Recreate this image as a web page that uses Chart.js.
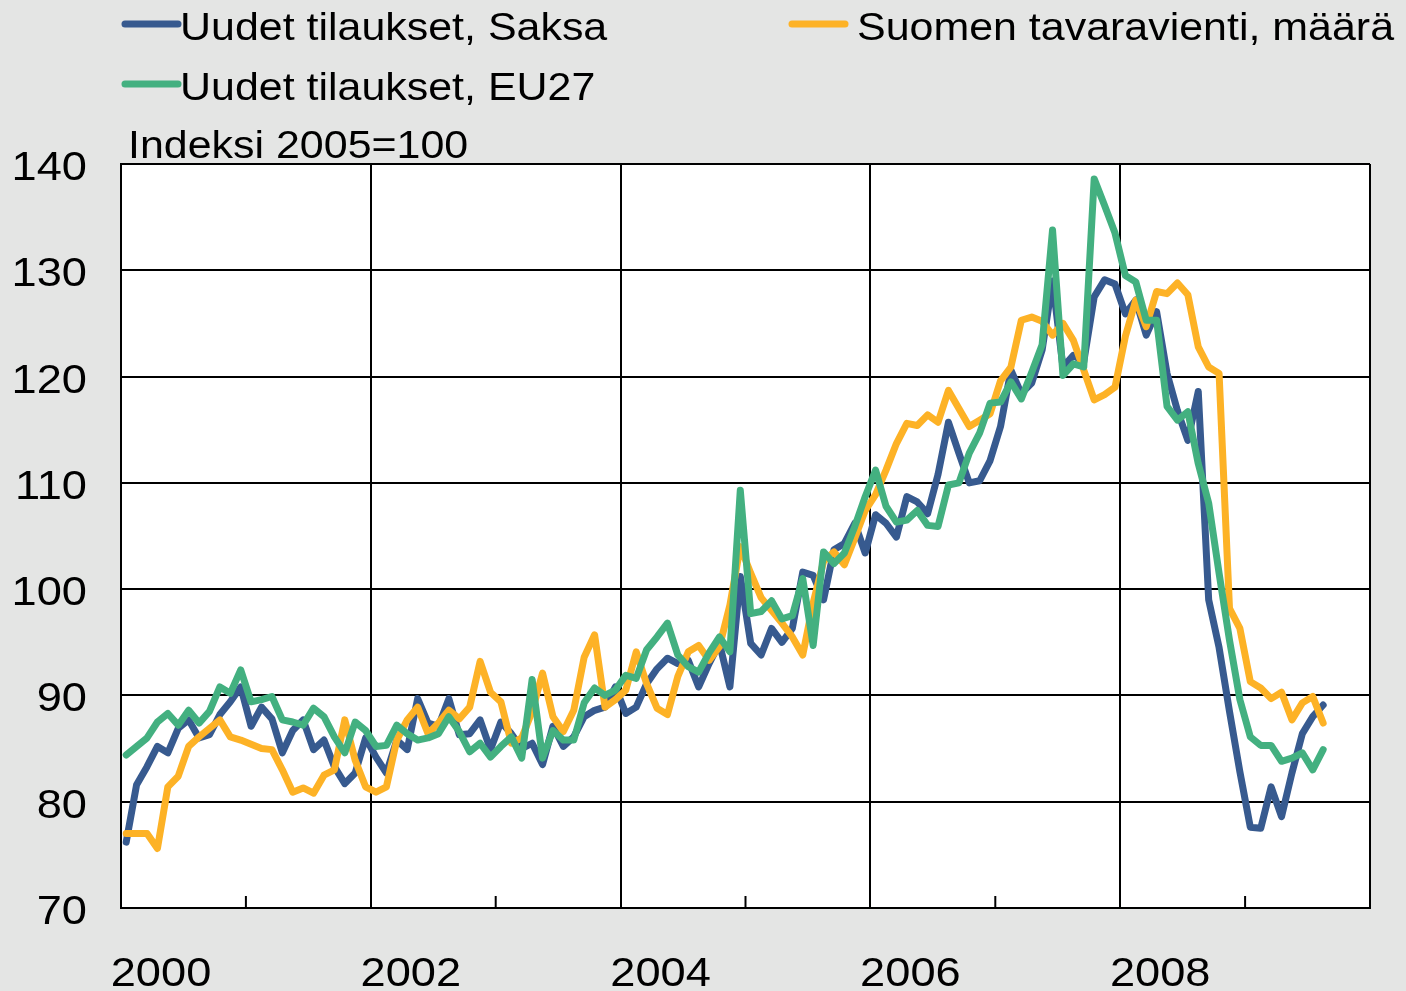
<!DOCTYPE html>
<html lang="fi">
<head>
<meta charset="utf-8">
<title>Uudet tilaukset ja Suomen tavaravienti</title>
<script src="https://cdn.jsdelivr.net/npm/chart.js@4.4.1/dist/chart.umd.min.js"></script>
<style>
  html, body { margin: 0; padding: 0; background: #e4e5e4; }
  canvas { display: block; }
</style>
</head>
<body>
<canvas id="chart" width="1406" height="991"></canvas>
<script>
// Monthly values, Jan 2000 - Aug 2009 (index 2005=100)
const startYear = 2000;

const saksa = [
  76.2, 81.6, 83.3, 85.2, 84.6, 86.9, 87.7, 86.0, 86.3, 88.2, 89.4, 90.8,
  87.1, 88.9, 87.8, 84.6, 86.7, 87.7, 84.9, 85.8, 83.3, 81.7, 82.7, 86.0,
  84.2, 82.7, 85.8, 84.9, 89.7, 87.4, 87.1, 89.7, 86.3, 86.4, 87.7, 84.9,
  87.5, 86.4, 85.0, 85.5, 83.5, 87.1, 85.2, 86.1, 88.0, 88.6, 88.9, 90.8,
  88.3, 88.9, 91.1, 92.5, 93.5, 93.0, 93.3, 90.8, 93.0, 94.9, 90.8, 101.2,
  94.9, 93.8, 96.3, 95.0, 96.3, 101.6, 101.3, 99.0, 103.7, 104.3, 106.2, 103.4,
  107.0, 106.2, 104.9, 108.7, 108.2, 107.1, 110.8, 115.7, 112.8, 110.0, 110.2, 112.1,
  115.3, 120.6, 118.4, 119.4, 122.5, 129.0, 120.9, 122.0, 121.4, 127.5, 129.1, 128.7,
  125.9, 127.2, 123.9, 126.1, 120.3, 116.8, 114.0, 118.6, 99.0, 94.5, 88.5, 82.8,
  77.6, 77.5, 81.4, 78.6, 82.7, 86.4, 88.0, 89.1
];

const vienti = [
  77.0, 77.0, 77.0, 75.6, 81.4, 82.4, 85.2, 86.1, 86.9, 87.7, 86.1, 85.8,
  85.4, 85.0, 84.9, 83.0, 80.9, 81.3, 80.8, 82.5, 83.0, 87.7, 83.9, 81.4,
  80.9, 81.4, 85.8, 87.7, 88.9, 86.4, 87.4, 88.6, 87.8, 88.9, 93.2, 90.3,
  89.4, 85.5, 86.0, 88.5, 92.1, 88.0, 86.6, 88.6, 93.6, 95.7, 88.9, 89.6,
  90.5, 94.1, 91.1, 88.8, 88.2, 91.8, 94.1, 94.7, 93.3, 94.6, 98.5, 104.0,
  101.5, 99.2, 98.0, 96.8, 95.5, 93.8, 98.7, 102.6, 103.5, 102.3, 104.8, 107.4,
  108.9, 111.2, 113.7, 115.6, 115.4, 116.4, 115.7, 118.7, 117.0, 115.3, 115.9, 116.5,
  119.6, 120.9, 125.3, 125.6, 125.2, 123.9, 125.0, 123.4, 120.6, 117.8, 118.3, 119.0,
  123.8, 127.2, 124.7, 128.0, 127.8, 128.8, 127.7, 122.8, 120.9, 120.3, 98.2, 96.3,
  91.3, 90.7, 89.7, 90.3, 87.7, 89.3, 89.9, 87.4
];

const eu27 = [
  84.4, 85.2, 86.0, 87.5, 88.3, 87.2, 88.6, 87.4, 88.5, 90.8, 90.2, 92.4,
  89.4, 89.6, 89.9, 87.7, 87.5, 87.2, 88.8, 88.0, 86.1, 84.6, 87.5, 86.7,
  85.2, 85.3, 87.2, 86.4, 85.8, 86.0, 86.4, 88.0, 86.6, 84.7, 85.5, 84.2,
  85.2, 86.1, 84.1, 91.5, 84.1, 86.7, 85.8, 85.8, 89.3, 90.7, 90.0, 90.5,
  91.9, 91.6, 94.3, 95.5, 96.8, 93.8, 92.7, 92.2, 94.0, 95.5, 94.1, 109.3,
  97.7, 97.9, 98.9, 97.2, 97.5, 101.0, 94.7, 103.5, 102.4, 103.4, 105.9, 108.7,
  111.2, 107.8, 106.3, 106.5, 107.4, 106.0, 105.9, 109.8, 110.0, 112.8, 114.7, 117.5,
  117.6, 119.5, 117.9, 120.4, 123.0, 133.8, 120.1, 121.2, 120.9, 138.6, 136.1, 133.5,
  129.5, 128.9, 125.3, 125.3, 117.2, 115.9, 116.7, 111.8, 108.1, 101.5, 95.2, 89.6,
  86.1, 85.3, 85.3, 83.8, 84.1, 84.6, 83.0, 84.9
];

const seriesLabels = ['Uudet tilaukset, Saksa', 'Suomen tavaravienti, määrä', 'Uudet tilaukset, EU27'];
const seriesColors = ['#375a8f', '#fdb226', '#43b080'];
const yearLabels = ['2000', '2002', '2004', '2006', '2008'];
const unitLabel = 'Indeksi 2005=100';

// Original text is drawn slightly wider than Arial
const STRETCH = 1.13;
const FONT = '"Liberation Sans", Arial, sans-serif';

const toPoints = (values) => values.map((v, i) => ({ x: startYear + (i + 0.5) / 12, y: v }));

const drawText = (ctx, text, x, y, align, size) => {
  ctx.save();
  ctx.font = size + 'px ' + FONT;
  ctx.fillStyle = '#000000';
  ctx.textBaseline = 'alphabetic';
  ctx.textAlign = align;
  ctx.translate(x, y);
  ctx.scale(STRETCH, 1);
  ctx.fillText(text, 0, 0);
  ctx.restore();
};

// White plot area, odd-year tick marks, labels and legend
const decorPlugin = {
  id: 'decor',
  beforeDraw(chart) {
    const { ctx, chartArea } = chart;
    ctx.save();
    ctx.fillStyle = '#ffffff';
    ctx.fillRect(chartArea.left, chartArea.top, chartArea.right - chartArea.left, chartArea.bottom - chartArea.top);
    ctx.restore();
  },
  beforeDatasetsDraw(chart) {
    const { ctx, chartArea, scales } = chart;
    ctx.save();
    ctx.strokeStyle = '#000000';
    ctx.lineWidth = 2;
    scales.x.ticks.forEach(t => {
      if (t.value % 2 === 1) {
        const px = scales.x.getPixelForValue(t.value);
        ctx.beginPath();
        ctx.moveTo(px, chartArea.bottom);
        ctx.lineTo(px, chartArea.bottom - 12);
        ctx.stroke();
      }
    });
    ctx.restore();
  },
  afterDraw(chart) {
    const { ctx, scales } = chart;

    // y tick labels
    scales.y.ticks.forEach(t => {
      drawText(ctx, String(t.value), 87, scales.y.getPixelForValue(t.value) + 16, 'right', 40);
    });

    // x year labels
    yearLabels.forEach(label => {
      const px = scales.x.getPixelForValue(Number(label));
      drawText(ctx, label, px + 40, 986, 'center', 40);
    });

    drawText(ctx, unitLabel, 128, 158, 'left', 38);

    // legend
    const legendPos = [
      { x: 122, y: 24, tx: 180, ty: 40 },
      { x: 789, y: 24, tx: 857, ty: 40 },
      { x: 122, y: 84, tx: 180, ty: 100 }
    ];
    chart.data.datasets.forEach((ds, i) => {
      const p = legendPos[i];
      ctx.save();
      ctx.strokeStyle = ds.borderColor;
      ctx.lineWidth = 7;
      ctx.lineCap = 'round';
      ctx.beginPath();
      ctx.moveTo(p.x + 3, p.y);
      ctx.lineTo(p.x + 56, p.y);
      ctx.stroke();
      ctx.restore();
      drawText(ctx, ds.label, p.tx, p.ty, 'left', 38);
    });
  }
};

const makeDataset = (idx, values, order) => ({
  label: seriesLabels[idx],
  data: toPoints(values),
  borderColor: seriesColors[idx],
  backgroundColor: seriesColors[idx],
  borderWidth: 7,
  borderJoinStyle: 'round',
  borderCapStyle: 'round',
  pointRadius: 0,
  tension: 0,
  fill: false,
  order: order
});

new Chart(document.getElementById('chart'), {
  type: 'line',
  data: {
    datasets: [
      makeDataset(0, saksa, 3),
      makeDataset(1, vienti, 2),
      makeDataset(2, eu27, 1)
    ]
  },
  options: {
    responsive: false,
    animation: false,
    devicePixelRatio: 1,
    layout: { padding: { top: 164, right: 36, left: 0, bottom: 0 } },
    plugins: {
      legend: { display: false },
      tooltip: { enabled: false }
    },
    scales: {
      x: {
        type: 'linear',
        min: 2000,
        max: 2010,
        afterFit(scale) { scale.height = 83; },
        ticks: { display: false, stepSize: 1 },
        grid: {
          drawTicks: false,
          lineWidth: 2,
          color: (c) => (c.tick && c.tick.value % 2 === 0) ? '#000000' : 'rgba(0,0,0,0)'
        },
        border: { display: true, color: '#000000', width: 2 }
      },
      y: {
        min: 70,
        max: 140,
        afterFit(scale) { scale.width = 121; },
        ticks: { display: false, stepSize: 10 },
        grid: { drawTicks: false, lineWidth: 2, color: '#000000' },
        border: { display: true, color: '#000000', width: 2 }
      }
    }
  },
  plugins: [decorPlugin]
});
</script>
</body>
</html>
